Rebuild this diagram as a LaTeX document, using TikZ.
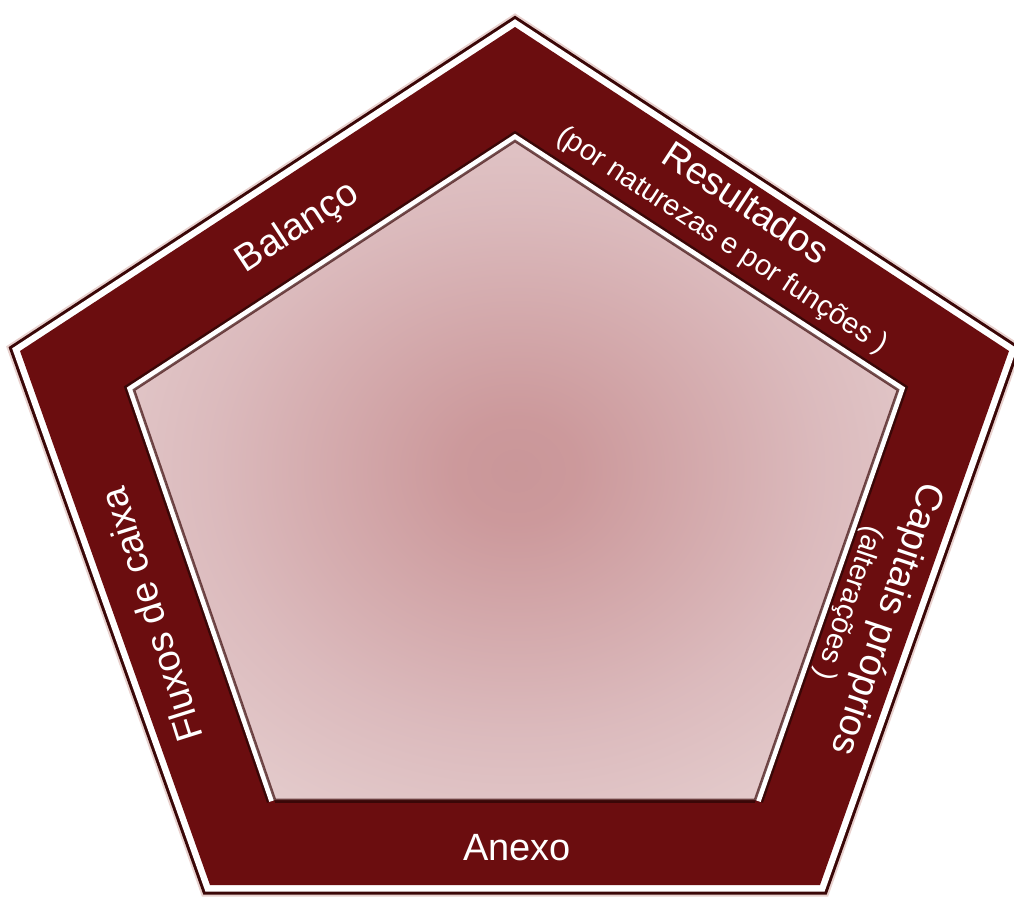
\documentclass[tikz,border=0pt]{standalone}
\usepackage{fontspec}
\setmainfont{Liberation Sans}
\definecolor{band}{HTML}{6B0D0F}
\definecolor{rim}{HTML}{3A0707}
\definecolor{haze}{HTML}{D9B2AE}
\pgfdeclareradialshading{glow}{\pgfpoint{0bp}{0bp}}{rgb(0bp)=(0.79,0.59,0.60); rgb(4bp)=(0.80,0.60,0.61); rgb(20bp)=(0.86,0.73,0.74); rgb(35bp)=(0.91,0.83,0.83); rgb(50bp)=(0.94,0.88,0.88)}
\tikzset{
  lbl/.style={text=white, inner sep=0pt, anchor=center},
  big/.style={lbl, font=\fontsize{38}{38}\selectfont},
  small/.style={lbl, font=\fontsize{29}{29}\selectfont},
}
\begin{document}
\begin{tikzpicture}[x=1pt,y=-1pt, line join=miter]
\useasboundingbox (0,0) rectangle (1014,897);
% outer pentagon
\coordinate (o1) at (515,27);
\coordinate (o2) at (1009,351);
\coordinate (o3) at (820,885);
\coordinate (o4) at (210,885);
\coordinate (o5) at (20,351);
% inner pentagon
\coordinate (i1) at (515,141);
\coordinate (i2) at (898,390);
\coordinate (i3) at (755,800);
\coordinate (i4) at (275,800);
\coordinate (i5) at (134,390);
\draw[line width=23pt, haze, opacity=0.6] (o1) -- (o2) -- (o3) -- (o4) -- (o5) -- cycle;
\draw[line width=19pt, rim] (o1) -- (o2) -- (o3) -- (o4) -- (o5) -- cycle;
\draw[line width=13pt, white] (o1) -- (o2) -- (o3) -- (o4) -- (o5) -- cycle;
\fill[band] (o1) -- (o2) -- (o3) -- (o4) -- (o5) -- cycle;
% inner frame
\draw[line width=17pt, rim] (i4) -- (i5) -- (i1) -- (i2) -- (i3);
\draw[line width=6pt, rim] (i3) -- (i4);
\draw[line width=12pt, white] (i4) -- (i5) -- (i1) -- (i2) -- (i3);
\shade[shading=glow] (i1) -- (i2) -- (i3) -- (i4) -- (i5) -- cycle;
\draw[line width=2.6pt, rim, opacity=0.7] (i1) -- (i2) -- (i3) -- (i4) -- (i5) -- cycle;
% labels
\node[big, rotate=33.3] (bal) at (298,228) {Balanço};
\node[big, rotate=-33.3] (res) at (746,202) {Resultados};
\node[small, rotate=-33.3] (resb) at (722,241) {(por naturezas e por funções )};
\node[big, rotate=-108.5] (cap) at (886,619) {Capitais próprios};
\node[small, rotate=-108.5] (capb) at (848,603) {(alterações )};
\node[big, rotate=107.5] (flu) at (151,615) {Fluxos de caixa};
\node[big] (ane) at (517,848) {Anexo};
\end{tikzpicture}
\end{document}
